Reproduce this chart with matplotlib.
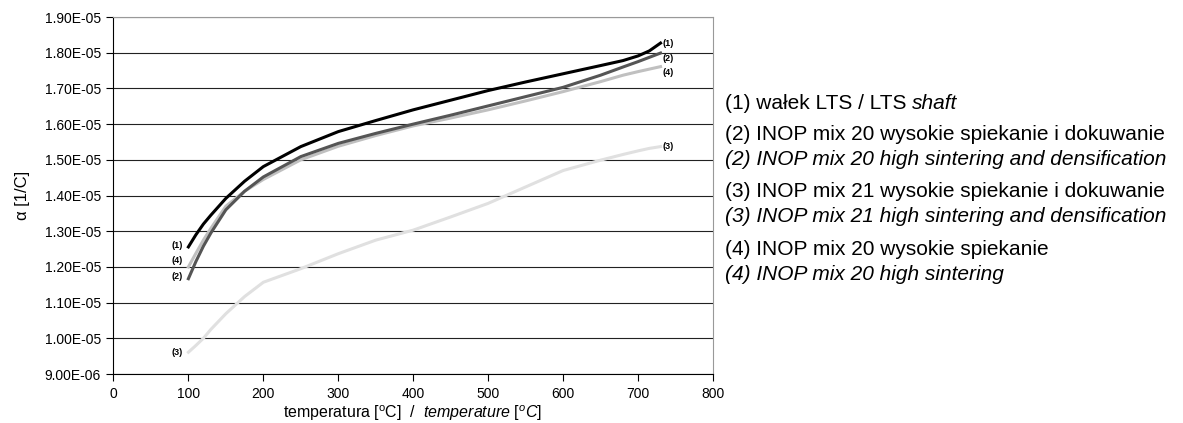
import numpy as np
import matplotlib
matplotlib.use("Agg")
import matplotlib.pyplot as plt
from matplotlib.ticker import FuncFormatter, MultipleLocator

plt.rcParams['font.family'] = ['Liberation Sans', 'DejaVu Sans']
plt.rcParams['mathtext.fontset'] = 'custom'
plt.rcParams['mathtext.rm'] = 'Liberation Sans'
plt.rcParams['mathtext.it'] = 'Liberation Sans:italic'

# odczyt z wykresu (temperatura w °C, alfa w 1/C)
temp = [100, 110, 120, 130, 150, 175, 200, 250, 300, 350, 400, 450, 500, 550, 600, 650, 680, 700, 715, 730]
alpha_1 = [1.256e-5, 1.290e-5, 1.320e-5, 1.345e-5, 1.392e-5, 1.440e-5, 1.481e-5, 1.537e-5, 1.579e-5,
           1.610e-5, 1.640e-5, 1.667e-5, 1.694e-5, 1.718e-5, 1.741e-5, 1.764e-5, 1.778e-5, 1.791e-5,
           1.805e-5, 1.827e-5]
alpha_2 = [1.167e-5, 1.215e-5, 1.258e-5, 1.295e-5, 1.360e-5, 1.412e-5, 1.452e-5, 1.509e-5, 1.546e-5,
           1.574e-5, 1.600e-5, 1.625e-5, 1.651e-5, 1.677e-5, 1.703e-5, 1.737e-5, 1.760e-5, 1.775e-5,
           1.787e-5, 1.799e-5]
alpha_3 = [0.961e-5, 0.980e-5, 1.000e-5, 1.025e-5, 1.069e-5, 1.117e-5, 1.157e-5, 1.195e-5, 1.237e-5,
           1.275e-5, 1.303e-5, 1.340e-5, 1.378e-5, 1.424e-5, 1.470e-5, 1.499e-5, 1.515e-5, 1.525e-5,
           1.532e-5, 1.537e-5]
alpha_4 = [1.200e-5, 1.238e-5, 1.275e-5, 1.308e-5, 1.370e-5, 1.412e-5, 1.445e-5, 1.500e-5, 1.538e-5,
           1.568e-5, 1.595e-5, 1.617e-5, 1.640e-5, 1.665e-5, 1.691e-5, 1.719e-5, 1.737e-5, 1.747e-5,
           1.754e-5, 1.761e-5]

serie = [("(1)", alpha_1, "#000000"),
         ("(2)", alpha_2, "#555555"),
         ("(3)", alpha_3, "#e0e0e0"),
         ("(4)", alpha_4, "#c0c0c0")]

legenda = [("(1) wałek LTS / LTS ", "shaft"),
           ("(2) INOP mix 20 wysokie spiekanie i dokuwanie", "(2) INOP mix 20 high sintering and densification"),
           ("(3) INOP mix 21 wysokie spiekanie i dokuwanie", "(3) INOP mix 21 high sintering and densification"),
           ("(4) INOP mix 20 wysokie spiekanie", "(4) INOP mix 20 high sintering")]

fig = plt.figure(figsize=(11.83, 4.23), dpi=100)
ax = fig.add_axes([0.0959, 0.1158, 0.5068, 0.844])

# rysowanie od najjasniejszej
for nr in [2, 3, 1, 0]:
    nazwa, y, kolor = serie[nr]
    ax.plot(temp, y, color=kolor, lw=2.2, zorder=3 + (3 - nr), solid_joinstyle='round')

# etykiety na koncach krzywych
left_off = {"(1)": 0.003e-5, "(2)": 0.007e-5, "(3)": 0.0, "(4)": 0.019e-5}
right_off = {"(1)": 0.0, "(2)": -0.015e-5, "(3)": 0.0, "(4)": -0.017e-5}
for nazwa, y, kolor in serie:
    ax.text(temp[0] - 7, y[0] + left_off[nazwa], nazwa, fontsize=6.5, fontweight='bold',
            ha='right', va='center')
    ax.text(temp[-1] + 3, y[-1] + right_off[nazwa], nazwa, fontsize=6.5, fontweight='bold',
            ha='left', va='center')

ax.set_xlim(0, 800)
ax.set_ylim(9e-6, 1.9e-5)
ax.xaxis.set_major_locator(MultipleLocator(100))
ax.yaxis.set_major_locator(MultipleLocator(1e-6))
ax.yaxis.set_major_formatter(FuncFormatter(lambda v, p: f"{v:.2E}"))
ax.grid(axis='y', color='#222222', lw=0.8)
ax.set_axisbelow(True)
ax.tick_params(labelsize=10, length=5, width=0.8, direction='out', pad=4)
ax.spines['top'].set_color('#999999')
ax.spines['right'].set_color('#999999')
for s in ax.spines.values():
    s.set_linewidth(0.8)

fig.text(23 / 1183, 0.538, "α [1/C]", fontsize=12, rotation=90, ha='center', va='center')
fig.text(0.349, 0.022, r"temperatura [$^{\rm o}$C]  /  $\it{temperature\ [^{o}C]}$",
         fontsize=11.5, ha='center', va='center')

# opis serii po prawej
y_pos = [0.7565, 0.6809, 0.5461, 0.4113]
dy = 0.0591
for (a, b), yy in zip(legenda, y_pos):
    if b == "shaft":
        t = fig.text(0.6128, yy, a, fontsize=15, va='center')
        fig.canvas.draw()
        bb = t.get_window_extent()
        fig.text(bb.x1 / fig.bbox.width, yy, b, fontsize=15, va='center', style='italic')
    else:
        fig.text(0.6128, yy, a, fontsize=15, va='center')
        fig.text(0.6128, yy - dy, b, fontsize=15, va='center', style='italic')

fig.savefig("out.png", dpi=100)
